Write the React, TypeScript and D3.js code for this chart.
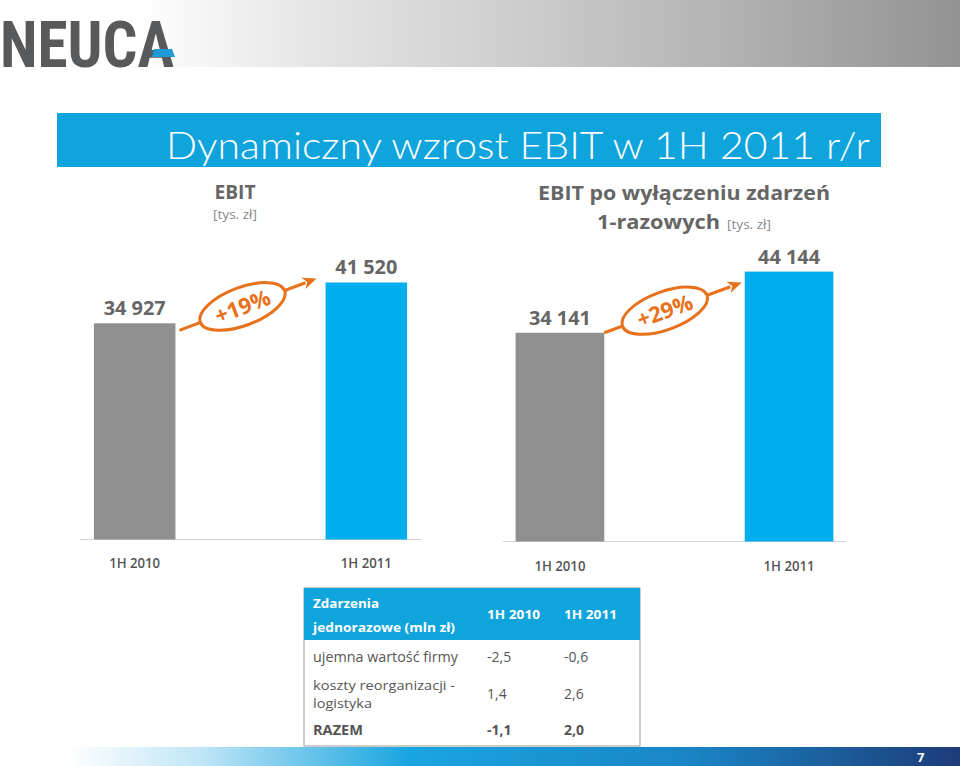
import React from "react";
import * as d3 from "d3";

const categories = ["1H 2010", "1H 2011"];
const ebitValues = [34927, 41520];
const ebitAdjValues = [34141, 44144];
const growthLabels = ["+19%", "+29%"];
const valueLabels1 = ["34 927", "41 520"];
const valueLabels2 = ["34 141", "44 144"];

const tableHeader = ["1H 2010", "1H 2011"];
const tableRowLabels = [["ujemna wartość firmy"], ["koszty reorganizacji -", "logistyka"], ["RAZEM"]];
const table2010 = ["-2,5", "1,4", "-1,1"];
const table2011 = ["-0,6", "2,6", "2,0"];

const FONT = "'Open Sans', Lato, sans-serif";
const GRAY_TXT = "#666666";
const ORANGE = "#E8711C";
const BLUE = "#00ADEE";
const GRAY_BAR = "#8F8F8F";

type ChartCfg = {
  values: number[];
  labels: string[];
  x0: number;
  x1: number;
  base: number;
  pxPerUnit: number;
  padInner: number;
  padOuter: number;
  growth: string;
  catY: number;
  arrowStart: [number, number];
  arrowEnd: [number, number];
  ellipse: [number, number];
};

function BarChart({ cfg }: { cfg: ChartCfg }) {
  const x = d3
    .scaleBand<string>()
    .domain(categories)
    .range([cfg.x0, cfg.x1])
    .paddingInner(cfg.padInner)
    .paddingOuter(cfg.padOuter);
  const maxV = 50000;
  const y = d3.scaleLinear().domain([0, maxV]).range([cfg.base, cfg.base - maxV * cfg.pxPerUnit]);
  const bw = x.bandwidth();
  const gx = (x(categories[0]) as number) + bw;
  const gy = y(cfg.values[0]);
  const bx = x(categories[1]) as number;
  const by = y(cfg.values[1]);
  const sx = gx + cfg.arrowStart[0];
  const sy = gy + cfg.arrowStart[1];
  const ex = bx + cfg.arrowEnd[0];
  const ey = by + cfg.arrowEnd[1];
  const ang = (Math.atan2(ey - sy, ex - sx) * 180) / Math.PI;
  const cx = sx + (ex - sx) * cfg.ellipse[0];
  const cy = sy + (ey - sy) * cfg.ellipse[0] + cfg.ellipse[1];
  const headLen = 14;
  const ux = Math.cos((ang * Math.PI) / 180);
  const uy = Math.sin((ang * Math.PI) / 180);
  const hx = ex - ux * headLen;
  const hy = ey - uy * headLen;
  const px = -uy * 6;
  const py = ux * 6;
  return (
    <g>
      <line x1={cfg.x0} x2={cfg.x1} y1={cfg.base} y2={cfg.base} stroke="#d4d4d4" strokeWidth={1} />
      {categories.map((c, i) => (
        <g key={c}>
          <rect
            x={x(c)}
            y={y(cfg.values[i])}
            width={bw}
            height={cfg.base - y(cfg.values[i])}
            fill={i === 0 ? GRAY_BAR : BLUE}
          />
          <text
            x={(x(c) as number) + bw / 2}
            y={y(cfg.values[i]) - 8}
            textAnchor="middle"
            fontFamily={FONT}
            fontWeight="bold"
            fontSize={19}
            fill={GRAY_TXT}
            textLength={62}
            lengthAdjust="spacingAndGlyphs"
          >
            {cfg.labels[i]}
          </text>
          <text
            x={(x(c) as number) + bw / 2}
            y={cfg.catY}
            textAnchor="middle"
            fontFamily={FONT}
            fontWeight={600}
            fontSize={14}
            fill="#555"
            textLength={51}
            lengthAdjust="spacingAndGlyphs"
          >
            {c}
          </text>
        </g>
      ))}
      <line x1={sx} y1={sy} x2={hx + ux * 2} y2={hy + uy * 2} stroke={ORANGE} strokeWidth={3} />
      <polygon
        points={`${ex},${ey} ${hx + px},${hy + py} ${hx + ux * 4},${hy + uy * 4} ${hx - px},${hy - py}`}
        fill={ORANGE}
      />
      <g transform={`translate(${cx},${cy}) rotate(${ang})`}>
        <ellipse cx={0} cy={0} rx={45} ry={19} fill="#fff" stroke={ORANGE} strokeWidth={3} />
        <text
          x={0}
          y={8}
          textAnchor="middle"
          fontFamily={FONT}
          fontWeight="bold"
          fontSize={22}
          fill={ORANGE}
        >
          {cfg.growth}
        </text>
      </g>
    </g>
  );
}

export default function App() {
  const left: ChartCfg = {
    values: ebitValues,
    labels: valueLabels1,
    x0: 80,
    x1: 421,
    base: 539.5,
    pxPerUnit: 0.00619,
    padInner: 0.648,
    padOuter: 0.06,
    growth: growthLabels[0],
    catY: 568,
    arrowStart: [4, 7],
    arrowEnd: [-9, -4],
    ellipse: [0.46, 0],
  };
  const right: ChartCfg = {
    values: ebitAdjValues,
    labels: valueLabels2,
    x0: 503,
    x1: 846,
    base: 541.5,
    pxPerUnit: 0.006114,
    padInner: 0.613,
    padOuter: 0.055,
    growth: growthLabels[1],
    catY: 571,
    arrowStart: [0, 0],
    arrowEnd: [-3, 11],
    ellipse: [0.44, 0],
  };
  const colX = [487, 564];
  const rowY = [[662], [690, 708], [735]];
  const rowW = [[145], [142, 59], [50]];
  return (
    <svg
      width={960}
      height={766}
      style={{ position: "absolute", left: 0, top: 0, background: "#fff" }}
      xmlns="http://www.w3.org/2000/svg"
    >
      <defs>
        <linearGradient id="hdr" x1="0" x2="1" y1="0" y2="0">
          <stop offset="0" stopColor="#ffffff" />
          <stop offset="0.14" stopColor="#ffffff" />
          <stop offset="0.32" stopColor="#e6e6e6" />
          <stop offset="0.62" stopColor="#c4c4c4" />
          <stop offset="1" stopColor="#939393" />
        </linearGradient>
        <linearGradient id="ftr" x1="0" x2="1" y1="0" y2="0">
          <stop offset="0" stopColor="#ffffff" />
          <stop offset="0.15" stopColor="#bfe5f6" />
          <stop offset="0.38" stopColor="#1aa6e0" />
          <stop offset="0.7" stopColor="#1a84c4" />
          <stop offset="1" stopColor="#1d3b78" />
        </linearGradient>
      </defs>
      {/* header */}
      <rect x={0} y={0} width={960} height={67} fill="url(#hdr)" />
      <text
        x={0}
        y={67}
        fontFamily="'Roboto Condensed', 'Liberation Sans Narrow', Roboto, sans-serif"
        fontWeight="bold"
        fontSize={64}
        fill="#58595B"
        textLength={174}
        lengthAdjust="spacingAndGlyphs"
      >
        NEUCA
      </text>
      <polygon points="154,49 172,49 175,57 152,57" fill="#1E9AD6" />
      {/* title bar */}
      <rect x={57} y={113} width={824} height={54} fill="#10A4DD" />
      <text
        x={870}
        y={159}
        textAnchor="end"
        fontFamily="Lato, sans-serif"
        fontWeight={300}
        fontSize={38}
        fill="#fff"
        textLength={704}
        lengthAdjust="spacingAndGlyphs"
      >
        Dynamiczny wzrost EBIT w 1H 2011 r/r
      </text>
      {/* chart titles */}
      <text x={235} y={199} textAnchor="middle" fontFamily={FONT} fontWeight="bold" fontSize={20} fill={GRAY_TXT} textLength={41} lengthAdjust="spacingAndGlyphs">
        EBIT
      </text>
      <text x={235} y={219} textAnchor="middle" fontFamily={FONT} fontSize={13} fill="#888" textLength={44} lengthAdjust="spacingAndGlyphs">
        [tys. zł]
      </text>
      <text x={684} y={200} textAnchor="middle" fontFamily={FONT} fontWeight="bold" fontSize={20} fill={GRAY_TXT} textLength={292} lengthAdjust="spacingAndGlyphs">
        EBIT po wyłączeniu zdarzeń
      </text>
      <text x={597} y={229} fontFamily={FONT} fontWeight="bold" fontSize={20} fill={GRAY_TXT} textLength={123} lengthAdjust="spacingAndGlyphs">
        1-razowych
      </text>
      <text x={727} y={229} fontFamily={FONT} fontSize={13} fill="#888" textLength={44} lengthAdjust="spacingAndGlyphs">
        [tys. zł]
      </text>
      <BarChart cfg={left} />
      <BarChart cfg={right} />
      {/* table */}
      <rect x={304} y={588} width={336} height={158} fill="#fff" stroke="#9a9a9a" strokeWidth={1} />
      <rect x={304} y={588} width={336} height={52} fill="#10A4DD" />
      <text x={313} y={608} fontFamily={FONT} fontWeight="bold" fontSize={13} fill="#fff" textLength={66} lengthAdjust="spacingAndGlyphs">
        Zdarzenia
      </text>
      <text x={313} y={632} fontFamily={FONT} fontWeight="bold" fontSize={13} fill="#fff" textLength={142} lengthAdjust="spacingAndGlyphs">
        jednorazowe (mln zł)
      </text>
      {tableHeader.map((h, i) => (
        <text key={h} x={colX[i]} y={619} fontFamily={FONT} fontWeight="bold" fontSize={13} fill="#fff" textLength={53} lengthAdjust="spacingAndGlyphs">
          {h}
        </text>
      ))}
      {tableRowLabels.map((lines, r) => {
        const bold = r === tableRowLabels.length - 1;
        const fs = lines.length > 1 ? 13 : 14;
        const midY = rowY[r].length > 1 ? (rowY[r][0] + rowY[r][1]) / 2 : rowY[r][0];
        return (
          <g key={r}>
            {lines.map((l, k) => (
              <text
                key={k}
                x={313}
                y={rowY[r][k]}
                fontFamily={FONT}
                fontWeight={bold ? "bold" : "normal"}
                fontSize={fs}
                fill="#555"
                textLength={rowW[r][k]}
                lengthAdjust="spacingAndGlyphs"
              >
                {l}
              </text>
            ))}
            <text x={colX[0]} y={midY} fontFamily={FONT} fontWeight={bold ? "bold" : "normal"} fontSize={14} fill="#555">
              {table2010[r]}
            </text>
            <text x={colX[1]} y={midY} fontFamily={FONT} fontWeight={bold ? "bold" : "normal"} fontSize={14} fill="#555">
              {table2011[r]}
            </text>
          </g>
        );
      })}
      {/* footer */}
      <rect x={68} y={747} width={892} height={19} fill="url(#ftr)" />
      <text x={917} y={762} fontFamily={FONT} fontWeight="bold" fontSize={13} fill="#fff">
        7
      </text>
    </svg>
  );
}
